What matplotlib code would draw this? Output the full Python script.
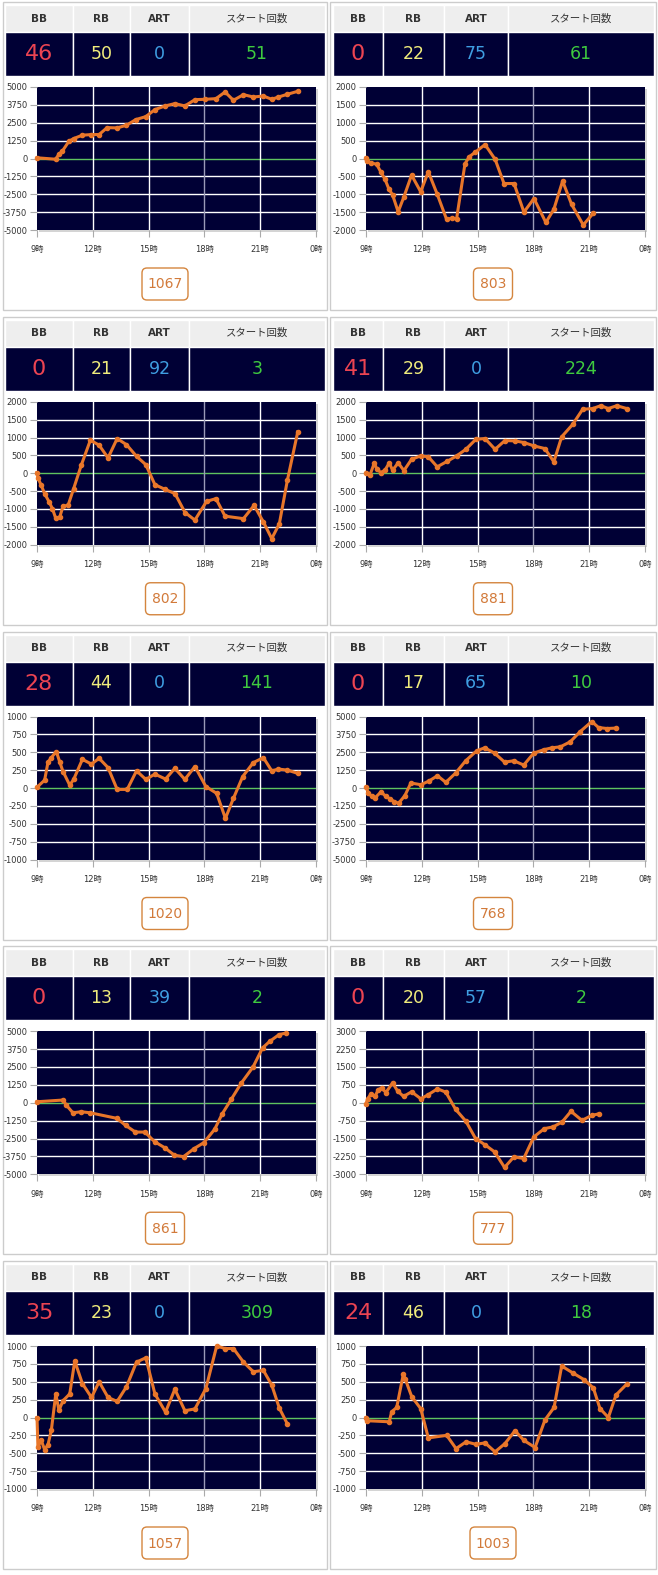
import matplotlib.pyplot as plt
from matplotlib.patches import Rectangle, FancyBboxPatch

plt.rcParams['font.family'] = ['DejaVu Sans', 'Noto Sans CJK JP']

W, H = 658, 1575

headers = ["BB", "RB", "ART", "スタート回数"]
bb = [46, 0, 0, 41, 28, 0, 0, 0, 35, 24]
rb = [50, 22, 21, 29, 44, 17, 13, 20, 23, 46]
art = [0, 75, 92, 0, 0, 65, 39, 57, 0, 0]
starts = [51, 61, 3, 224, 141, 10, 2, 2, 309, 18]
totals = [1067, 803, 802, 881, 1020, 768, 861, 777, 1057, 1003]
y_limits = [5000, 2000, 2000, 2000, 1000, 5000, 5000, 3000, 1000, 1000]
x_ticks = [9, 12, 15, 18, 21, 24]
x_labels = ["9時", "12時", "15時", "18時", "21時", "0時"]

hours_1 = [9.0, 10.0, 10.18, 10.36, 10.72, 10.97, 11.44, 11.93, 12.34, 12.77, 13.31, 13.81,
           14.31, 14.85, 15.34, 15.89, 16.41, 16.95, 17.49, 18.03, 18.62, 19.11, 19.56,
           20.10, 20.63, 21.17, 21.62, 21.98, 22.46, 23.02]
diff_1 = [50, -50, 300, 510, 1210, 1395, 1630, 1675, 1675, 2160, 2140, 2325, 2720, 2930,
          3420, 3675, 3840, 3675, 4115, 4140, 4185, 4650, 4070, 4465, 4300, 4370, 4140,
          4300, 4490, 4700]

hours_2 = [9.0, 9.07, 9.25, 9.57, 9.79, 10.02, 10.22, 10.43, 10.73, 11.04, 11.45, 11.94,
           12.35, 12.83, 13.33, 13.60, 13.87, 14.32, 14.55, 14.86, 15.40, 15.94, 16.42,
           16.96, 17.49, 18.03, 18.67, 19.10, 19.57, 20.05, 20.68, 21.22]
diff_2 = [20, -75, -120, -160, -370, -580, -840, -1020, -1490, -1070, -465, -930, -370,
          -1000, -1700, -1670, -1690, -150, 50, 170, 390, -20, -700, -700, -1500, -1120,
          -1790, -1420, -630, -1280, -1860, -1530]

hours_3 = [9.0, 9.05, 9.23, 9.41, 9.65, 9.83, 10.0, 10.22, 10.40, 10.67, 10.97, 11.39,
           11.87, 12.34, 12.82, 13.31, 13.81, 14.35, 14.85, 15.34, 15.88, 16.42, 16.96,
           17.49, 18.12, 18.62, 19.11, 20.10, 20.67, 21.17, 21.62, 22.03, 22.46, 23.02]
diff_3 = [20, -130, -340, -570, -800, -990, -1250, -1230, -920, -900, -430, 240, 925, 785,
          430, 970, 800, 475, 240, -320, -450, -570, -1100, -1310, -785, -710, -1200,
          -1270, -900, -1360, -1830, -1410, -200, 1160]

hours_4 = [9.0, 9.22, 9.45, 9.57, 9.79, 10.02, 10.25, 10.43, 10.73, 11.04, 11.45, 11.94,
           12.35, 12.83, 13.37, 13.87, 14.37, 14.91, 15.40, 15.94, 16.47, 17.01, 17.49,
           18.03, 18.62, 19.10, 19.52, 20.11, 20.65, 21.19, 21.62, 22.03, 22.48, 23.02]
diff_4 = [20, -40, 290, 130, 20, 85, 290, 85, 290, 75, 390, 485, 460, 180, 335, 485, 670,
          950, 970, 670, 915, 905, 860, 765, 690, 320, 1020, 1365, 1790, 1810, 1890, 1810,
          1890, 1810]

hours_5 = [9.0, 9.41, 9.59, 9.77, 10.04, 10.22, 10.40, 10.76, 10.97, 11.44, 11.93, 12.34,
           12.82, 13.31, 13.85, 14.35, 14.85, 15.34, 15.91, 16.41, 16.95, 17.49, 18.08,
           18.66, 19.13, 19.56, 20.06, 20.63, 21.17, 21.62, 21.98, 22.46, 23.02]
diff_5 = [10, 110, 360, 425, 510, 365, 230, 40, 120, 400, 335, 415, 285, -20, -20, 240,
          120, 195, 125, 275, 120, 300, 20, -75, -425, -145, 160, 355, 425, 240, 265, 250,
          205]

hours_6 = [9.0, 9.13, 9.30, 9.48, 9.80, 10.07, 10.30, 10.52, 10.75, 11.09, 11.41, 11.95,
           12.39, 12.84, 13.29, 13.82, 14.36, 14.95, 15.38, 15.91, 16.45, 16.95, 17.48,
           18.02, 18.55, 19.0, 19.45, 19.98, 20.52, 21.14, 21.50, 21.95, 22.45]
diff_6 = [70, -350, -580, -700, -280, -580, -770, -950, -1070, -535, 350, 230, 490, 860,
          395, 1045, 1905, 2600, 2810, 2440, 1810, 1905, 1605, 2440, 2675, 2810, 2880,
          3230, 3950, 4650, 4230, 4160, 4190]

hours_7 = [9.0, 10.40, 10.57, 10.93, 11.38, 11.86, 13.29, 13.76, 14.29, 14.80, 15.32,
           15.86, 16.39, 16.88, 17.44, 17.97, 18.55, 18.96, 19.44, 19.98, 20.61, 21.13,
           21.52, 22.02, 22.41]
diff_7 = [70, 190, -160, -700, -630, -700, -1090, -1580, -2050, -2050, -2720, -3140,
          -3670, -3770, -3210, -2790, -1860, -770, 230, 1370, 2490, 3840, 4300, 4770, 4880]

hours_8 = [9.0, 9.09, 9.27, 9.48, 9.66, 9.84, 10.07, 10.43, 10.70, 11.02, 11.45, 11.95,
           12.34, 12.84, 13.29, 13.82, 14.36, 14.89, 15.38, 15.91, 16.45, 16.95, 17.48,
           18.02, 18.59, 19.05, 19.54, 20.02, 20.61, 21.14, 21.55]
diff_8 = [-40, 170, 375, 265, 545, 625, 430, 835, 490, 265, 460, 165, 335, 585, 445, -280,
          -765, -1500, -1755, -2060, -2715, -2270, -2340, -1435, -1085, -1015, -810, -360,
          -740, -530, -460]

hours_9 = [9.0, 9.05, 9.23, 9.41, 9.59, 9.77, 10.01, 10.18, 10.40, 10.76, 11.03, 11.44,
           11.93, 12.34, 12.82, 13.31, 13.81, 14.35, 14.85, 15.34, 15.91, 16.41, 16.95,
           17.49, 18.08, 18.66, 19.11, 19.56, 20.10, 20.63, 21.17, 21.62, 22.03, 22.46]
diff_9 = [0, -410, -320, -450, -380, -180, 330, 100, 235, 330, 790, 475, 280, 500, 280,
          225, 430, 775, 835, 330, 75, 395, 95, 120, 405, 1000, 965, 965, 775, 640, 660,
          455, 130, -90]

hours_10 = [9.0, 9.07, 10.25, 10.38, 10.65, 11.01, 11.10, 11.46, 11.94, 12.35, 13.34,
            13.84, 14.38, 14.91, 15.40, 15.94, 16.47, 17.01, 17.49, 18.09, 18.62, 19.11,
            19.52, 20.11, 20.72, 21.22, 21.58, 22.03, 22.44, 23.01]
diff_10 = [0, -45, -60, 80, 140, 610, 545, 290, 125, -285, -250, -435, -340, -375, -355,
           -480, -365, -185, -320, -420, -35, 140, 720, 625, 530, 415, 125, 0, 315, 465]

hours = [hours_1, hours_2, hours_3, hours_4, hours_5,
         hours_6, hours_7, hours_8, hours_9, hours_10]
diffs = [diff_1, diff_2, diff_3, diff_4, diff_5,
         diff_6, diff_7, diff_8, diff_9, diff_10]

NAVY = "#000035"
LINE = "#e8762a"
value_colors = ["#ec4452", "#f0ec7c", "#3f9ee2", "#3fcb3f"]


def fig_rect(x0, y0, x1, y1):
    return [x0 / W, 1 - y1 / H, (x1 - x0) / W, (y1 - y0) / H]


fig = plt.figure(figsize=(W / 100, H / 100), dpi=100)
bg = fig.add_axes([0, 0, 1, 1])
bg.set_xlim(0, W)
bg.set_ylim(H, 0)
bg.axis("off")

for i in range(10):
    col, row = i % 2, i // 2
    oy = row * 314.75
    if col == 0:
        px0, px1 = 3, 327
        cols = [5, 73, 130, 189, 325]
        plot_x = (37, 316)
        box_cx = 165
    else:
        px0, px1 = 330, 656
        cols = [333, 383, 444, 508, 654]
        plot_x = (366, 645)
        box_cx = 493

    # panel frame
    bg.add_patch(Rectangle((px0, 2 + oy), px1 - px0, 308, fill=False,
                           edgecolor="#cccccc", lw=1))

    # table
    vals = [bb[i], rb[i], art[i], starts[i]]
    for c in range(4):
        x0, x1 = cols[c], cols[c + 1]
        bg.add_patch(Rectangle((x0, 5 + oy), x1 - x0, 27, facecolor="#eeeeee",
                               edgecolor="white", lw=1))
        bg.add_patch(Rectangle((x0, 32 + oy), x1 - x0, 44, facecolor=NAVY,
                               edgecolor="white", lw=1))
        xc = (x0 + x1) / 2
        bg.text(xc, 18.5 + oy, headers[c], ha="center", va="center",
                fontsize=7.5, color="#333333",
                fontweight="bold" if c < 3 else "normal")
        bg.text(xc, 54 + oy, str(vals[c]), ha="center", va="center",
                fontsize=16 if c == 0 else 12.5, color=value_colors[c])

    # shadow behind plot
    bg.add_patch(Rectangle((plot_x[0] + 2, 89 + oy), plot_x[1] - plot_x[0], 143,
                           facecolor="#d4d4d4", edgecolor="none"))

    # chart
    ax = fig.add_axes(fig_rect(plot_x[0], 87 + oy, plot_x[1], 230 + oy))
    lim = y_limits[i]
    yt = [lim * k / 4 for k in range(-4, 5)]
    ax.set_facecolor(NAVY)
    ax.set_xlim(9, 24)
    ax.set_ylim(-lim, lim)
    for v in yt[1:-1]:
        ax.axhline(v, color="#5fc35f" if v == 0 else "white", lw=1, zorder=1)
    for t in [12, 15, 18, 21]:
        ax.axvline(t, color="#9a9ab8" if t == 18 else "white", lw=1, zorder=1)
    ax.plot(hours[i], diffs[i], color=LINE, lw=2.2, marker="o", ms=3,
            zorder=3, clip_on=False)
    for s in ax.spines.values():
        s.set_visible(False)
    ax.set_yticks(yt)
    ax.set_yticklabels([str(int(v)) for v in yt])
    ax.set_xticks(x_ticks)
    ax.set_xticklabels(x_labels)
    ax.tick_params(axis="y", length=5, width=0.8, color="#aaaaaa", pad=2,
                   labelsize=6, labelcolor="#333333")
    ax.tick_params(axis="x", length=5, width=0.8, color="#aaaaaa", pad=6,
                   labelsize=6, labelcolor="#333333")

    # total box
    txt = str(totals[i])
    bw = 7 * len(txt) + 18
    bg.add_patch(FancyBboxPatch((box_cx - bw / 2, 268 + oy), bw, 32,
                                boxstyle="round,pad=0,rounding_size=5",
                                facecolor="white", edgecolor="#d4853e", lw=1))
    bg.text(box_cx, 284.5 + oy, txt, ha="center", va="center", fontsize=10,
            color="#d27a3a")

fig.savefig("out.png", dpi=100)
